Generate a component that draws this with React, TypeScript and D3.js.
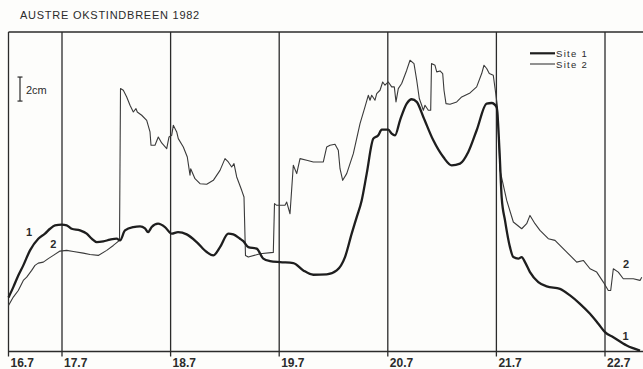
import React from "react";
import * as d3 from "d3";

// time in hours since 00:00 on 16 July 1982; level in cm (relative)
const dayLabels = ["16.7", "17.7", "18.7", "19.7", "20.7", "21.7", "22.7"];
const dayHours = [12.18, 24, 48, 72, 96, 120, 144];
const seriesNames = ["Site 1", "Site 2"];

const site1: [number, number][] = [
  [12.18, 4.5], [13.24, 5.36], [14.34, 6.33], [15.45, 7.17], [16.93, 8.42], [18.76, 9.39],
  [20.24, 9.81], [21.35, 10.22], [22.45, 10.5], [23.93, 10.56], [25.04, 10.5], [26.14, 10.22],
  [27.98, 10.08], [29.46, 9.81], [30.56, 9.39], [31.67, 9.11], [33.13, 9.17], [34.61, 9.31],
  [36.09, 9.39], [36.82, 9.25], [37.92, 10.08], [39.76, 10.36], [41.24, 10.42], [42.34, 10.25],
  [43.01, 9.94], [43.82, 10.36], [45.22, 10.64], [46.76, 10.36], [48.24, 9.81], [49.64, 9.94],
  [51.56, 9.75], [53.77, 9.11], [55.98, 8.28], [57.44, 8.0], [58.92, 8.69], [60.75, 9.81],
  [61.86, 9.75], [63.34, 9.39], [64.07, 9.19], [65.17, 8.69], [67.03, 8.56], [68.49, 7.73],
  [69.97, 7.53], [72.18, 7.44], [75.12, 7.36], [77.33, 6.75], [79.54, 6.39], [82.5, 6.42],
  [84.71, 6.75], [86.54, 7.86], [88.02, 9.81], [89.13, 11.19], [90.23, 12.58], [91.34, 14.81],
  [92.8, 17.72], [93.9, 18.0], [94.65, 18.47], [96.11, 18.47], [96.86, 18.14], [97.59, 18.0],
  [98.7, 19.25], [100.18, 20.64], [101.28, 21.0], [102.39, 20.78], [103.85, 19.53], [106.06, 17.58],
  [108.27, 16.19], [110.12, 15.5], [111.96, 15.64], [113.79, 16.61], [115.64, 18.42], [117.85, 20.64],
  [118.96, 20.69], [120.07, 20.33], [120.68, 16.75], [121.17, 12.81], [121.9, 10.92], [123.0, 8.69],
  [123.74, 7.86], [124.84, 7.73], [125.59, 7.86], [126.32, 7.44], [127.42, 6.61], [129.26, 5.78],
  [131.12, 5.42], [134.05, 5.22], [136.27, 4.67], [138.47, 3.97], [140.69, 3.14], [142.52, 2.31],
  [144.0, 1.61], [145.84, 1.19], [148.8, 0.5], [151.74, 0.08],
];

const site2: [number, number][] = [
  [12.18, 3.83], [13.24, 4.53], [14.34, 5.08], [15.45, 5.92], [16.2, 6.19], [17.3, 6.75],
  [18.03, 7.17], [18.76, 7.36], [19.87, 7.44], [20.97, 7.73], [22.08, 8.0], [23.56, 8.36],
  [25.04, 8.42], [26.5, 8.33], [28.71, 8.19], [30.19, 8.08], [32.02, 8.0], [33.88, 8.42],
  [35.34, 8.83], [36.71, 9.25], [36.93, 21.89], [37.55, 21.75], [38.3, 21.19], [39.03, 20.5],
  [39.76, 19.94], [40.35, 20.22], [40.64, 19.94], [41.61, 19.67], [42.72, 19.25], [43.45, 18.28],
  [43.67, 17.17], [44.55, 17.17], [45.28, 17.86], [46.03, 17.36], [47.14, 16.89], [47.65, 17.86],
  [48.24, 18.0], [48.6, 18.83], [49.35, 18.28], [49.7, 17.72], [50.81, 17.03], [51.69, 16.19],
  [52.13, 15.08], [52.29, 14.67], [52.44, 15.22], [53.39, 14.39], [54.5, 13.97], [55.98, 13.92],
  [57.44, 14.25], [58.92, 15.08], [60.02, 16.06], [60.75, 15.78], [61.5, 15.36], [62.01, 15.64],
  [62.61, 14.53], [63.71, 13.42], [64.22, 12.86], [64.55, 8.0], [65.17, 7.86], [67.76, 8.14],
  [70.7, 8.25], [70.96, 12.31], [71.45, 12.17], [73.28, 12.17], [73.66, 12.44], [74.39, 11.47],
  [75.12, 15.5], [75.87, 14.81], [76.6, 16.06], [78.08, 15.92], [79.54, 15.78], [81.75, 15.78],
  [82.5, 17.03], [83.23, 17.17], [84.33, 17.25], [85.06, 16.75], [85.44, 15.22], [86.03, 14.25],
  [86.92, 14.81], [88.38, 16.47], [89.86, 18.97], [90.96, 20.36], [91.69, 21.33], [92.07, 20.92],
  [92.44, 21.33], [93.17, 20.92], [93.55, 21.47], [94.28, 21.75], [94.87, 22.44], [95.38, 22.17],
  [96.11, 22.44], [96.86, 22.03], [97.44, 22.03], [97.81, 20.78], [98.32, 21.89], [99.07, 22.31],
  [100.18, 23.42], [100.91, 24.25], [101.79, 23.97], [102.39, 22.58], [102.96, 21.06], [103.49, 20.5],
  [103.85, 20.08], [104.22, 20.5], [104.95, 20.08], [105.48, 20.08], [105.66, 23.97], [106.43, 23.83],
  [106.81, 23.28], [107.54, 23.36], [108.13, 23.14], [108.42, 21.75], [108.86, 20.64], [109.75, 20.58],
  [111.23, 20.78], [112.33, 21.19], [114.17, 21.53], [115.64, 22.03], [116.75, 23.14], [117.26, 23.83],
  [117.85, 23.56], [118.43, 23.14], [119.31, 23.0], [120.2, 20.5], [120.8, 15.08], [122.28, 12.58],
  [123.74, 10.78], [125.59, 10.22], [126.69, 10.64], [127.42, 11.33], [128.53, 10.64], [129.63, 10.08],
  [131.47, 9.39], [132.95, 9.25], [134.05, 8.83], [135.54, 8.28], [137.75, 7.44], [139.21, 7.58],
  [140.69, 6.89], [142.17, 6.61], [143.63, 5.78], [144.73, 5.08], [145.26, 5.08], [145.84, 6.89],
  [146.94, 6.61], [148.04, 6.06], [150.25, 6.06], [151.74, 5.92], [152.12, 6.19],
];

const W = 643;
const H = 369;
const LEFT = 8.5;
const TOP = 32;
const BOTTOM = 351.5;

export default function App() {
  const x = d3.scaleLinear().domain([24, 144]).range([62, 605]);
  const y = d3.scaleLinear().domain([0, 26.6]).range([BOTTOM, TOP]);

  const line1 = d3
    .line<[number, number]>()
    .x((d) => x(d[0]))
    .y((d) => y(d[1]))
    .curve(d3.curveMonotoneX);
  const line2 = d3
    .line<[number, number]>()
    .x((d) => x(d[0]))
    .y((d) => y(d[1]))
    .curve(d3.curveLinear);

  const ink = "#2b2b2b";
  const font = "'Liberation Sans', Arial, sans-serif";
  const barLo = y(20.85);
  const barHi = y(22.85);

  return (
    <svg
      width={W}
      height={H}
      viewBox={`0 0 ${W} ${H}`}
      style={{ position: "absolute", left: 0, top: 0, background: "#fff" }}
    >
      <rect x={0} y={0} width={W} height={H} fill="#fdfdfb" />
      <text x={20} y={19.3} fontFamily={font} fontSize={11} letterSpacing={0.75} fill={ink}>
        AUSTRE OKSTINDBREEN 1982
      </text>

      {/* frame */}
      <line x1={LEFT} x2={W} y1={TOP} y2={TOP} stroke={ink} strokeWidth={1.5} />
      <line x1={LEFT} x2={W} y1={BOTTOM} y2={BOTTOM} stroke={ink} strokeWidth={1.5} />

      {/* day lines and labels */}
      {dayHours.map((h, i) => (
        <g key={dayLabels[i]}>
          <line
            x1={i === 0 ? LEFT : x(h)}
            x2={i === 0 ? LEFT : x(h)}
            y1={TOP}
            y2={BOTTOM + 5}
            stroke={ink}
            strokeWidth={1.3}
          />
          <text
            x={(i === 0 ? LEFT : x(h)) + 2}
            y={366.5}
            fontFamily={font}
            fontSize={12}
            fontWeight="bold"
            fill={ink}
          >
            {dayLabels[i]}
          </text>
        </g>
      ))}

      {/* scale bar */}
      <g stroke={ink} strokeWidth={1.2}>
        <line x1={20} x2={20} y1={barHi} y2={barLo} />
        <line x1={17.5} x2={22.5} y1={barHi} y2={barHi} />
        <line x1={17.5} x2={22.5} y1={barLo} y2={barLo} />
      </g>
      <text x={26} y={93.5} fontFamily={font} fontSize={11} fill={ink}>
        2cm
      </text>

      {/* series */}
      <path d={line2(site2) || ""} fill="none" stroke="#3a3a3a" strokeWidth={1.1} strokeLinejoin="round" />
      <path d={line1(site1) || ""} fill="none" stroke="#1e1e1e" strokeWidth={2.3} strokeLinejoin="round" />

      {/* curve labels */}
      <g fontFamily={font} fontSize={11} fontWeight="bold" fill={ink} textAnchor="middle">
        <text x={29} y={236}>1</text>
        <text x={53.3} y={248}>2</text>
        <text x={626} y={268}>2</text>
        <text x={625.5} y={340}>1</text>
      </g>

      {/* legend */}
      <line x1={530} x2={555} y1={53.3} y2={53.3} stroke="#1e1e1e" strokeWidth={2.2} />
      <line x1={530} x2={555} y1={64} y2={64} stroke="#3a3a3a" strokeWidth={1.1} />
      <text x={556} y={56.6} fontFamily={font} fontSize={9.5} letterSpacing={1.3} fill={ink}>
        {seriesNames[0]}
      </text>
      <text x={556} y={67.6} fontFamily={font} fontSize={9.5} letterSpacing={1.3} fill={ink}>
        {seriesNames[1]}
      </text>
    </svg>
  );
}
